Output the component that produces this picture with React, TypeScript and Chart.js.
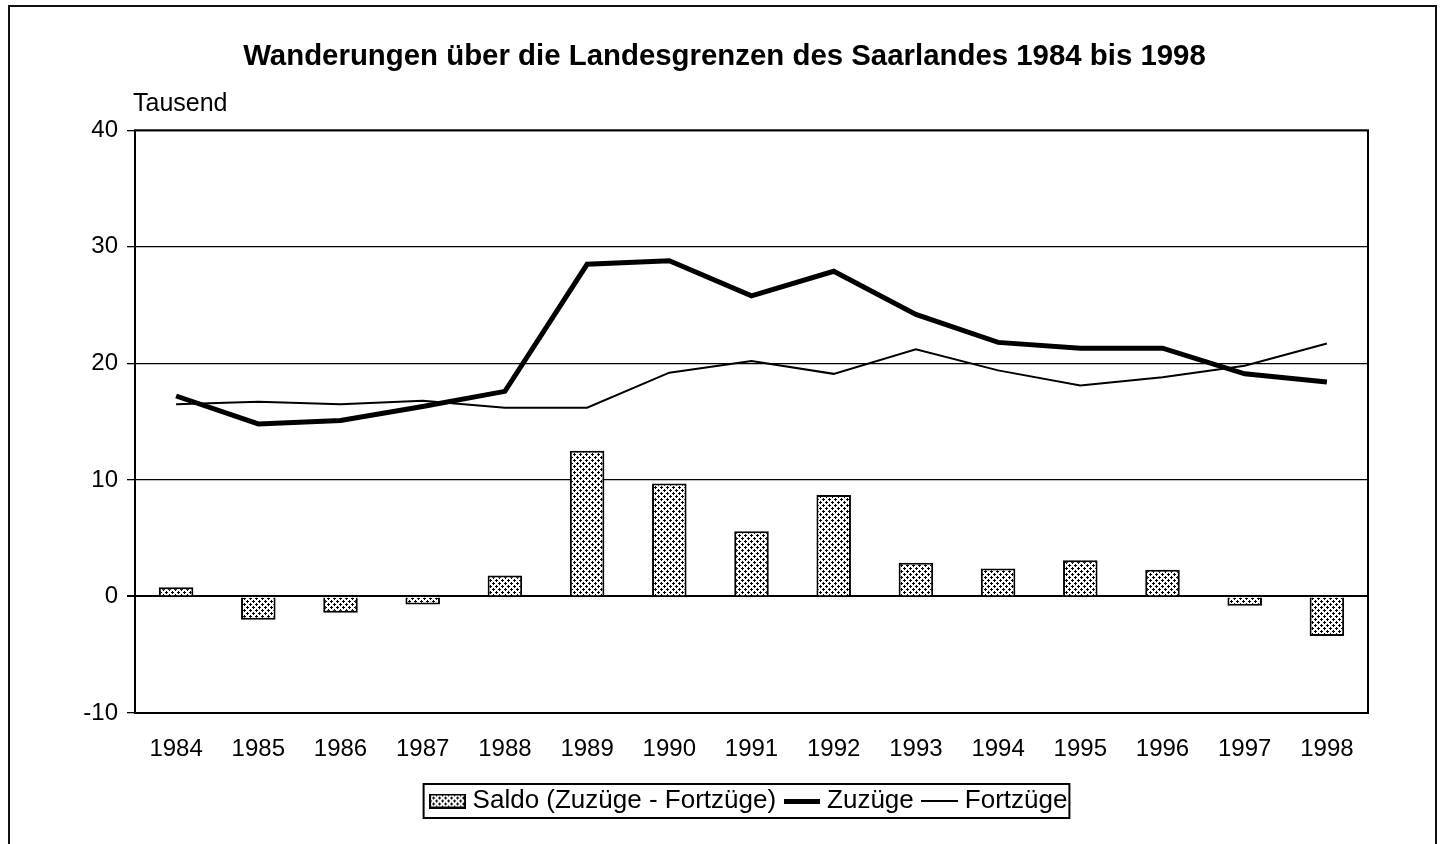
import React, { useEffect, useRef } from "react";
import { Chart, registerables } from "chart.js";
Chart.register(...registerables);

const years = ["1984", "1985", "1986", "1987", "1988", "1989", "1990", "1991", "1992", "1993", "1994", "1995", "1996", "1997", "1998"];
const saldo = [0.8, -2.0, -1.4, -0.7, 1.8, 12.5, 9.7, 5.6, 8.7, 2.9, 2.4, 3.1, 2.3, -0.8, -3.4];
const zuzuege = [17.2, 14.8, 15.1, 16.3, 17.6, 28.5, 28.8, 25.8, 27.9, 24.2, 21.8, 21.3, 21.3, 19.1, 18.4];
const fortzuege = [16.5, 16.7, 16.5, 16.8, 16.2, 16.2, 19.2, 20.2, 19.1, 21.2, 19.4, 18.1, 18.8, 19.8, 21.7];
const yMin = -10;
const yMax = 40;
const yStep = 10;

const titleText = "Wanderungen über die Landesgrenzen des Saarlandes 1984 bis 1998";
const unitText = "Tausend";
const seriesNames = ["Saldo (Zuzüge - Fortzüge)", "Zuzüge", "Fortzüge"];

const FONT = "'Liberation Sans', Arial, Helvetica, sans-serif";

function makePattern(): CanvasPattern | string {
  const c = document.createElement("canvas");
  c.width = 6;
  c.height = 6;
  const g = c.getContext("2d");
  if (!g) return "#bbb";
  g.fillStyle = "#fff";
  g.fillRect(0, 0, 6, 6);
  g.fillStyle = "#000";
  const dot = (x: number, y: number) => {
    g.fillRect(x + 1, y, 1, 3);
    g.fillRect(x, y + 1, 3, 1);
  };
  dot(0, 0);
  dot(3, 3);
  const p = g.createPattern(c, "repeat");
  return p || "#bbb";
}

function legendImage(kind: number, pattern: CanvasPattern | string): HTMLCanvasElement {
  const c = document.createElement("canvas");
  const g = c.getContext("2d")!;
  if (kind === 0) {
    c.width = 37;
    c.height = 15;
    g.fillStyle = pattern as any;
    g.fillRect(0, 0, 37, 15);
    g.strokeStyle = "#000";
    g.lineWidth = 2;
    g.strokeRect(1, 1, 35, 13);
  } else if (kind === 1) {
    c.width = 36;
    c.height = 5;
    g.fillStyle = "#000";
    g.fillRect(0, 0, 36, 5);
  } else {
    c.width = 37;
    c.height = 2;
    g.fillStyle = "#000";
    g.fillRect(0, 0, 37, 2);
  }
  return c;
}

const framePlugin = {
  id: "framePlugin",
  afterDraw(chart: any) {
    const { ctx, chartArea } = chart;
    ctx.save();
    ctx.strokeStyle = "#000";
    ctx.lineWidth = 2;
    ctx.strokeRect(chartArea.left, chartArea.top, chartArea.right - chartArea.left, chartArea.bottom - chartArea.top);
    ctx.fillStyle = "#000";
    ctx.font = `25px ${FONT}`;
    ctx.textAlign = "left";
    ctx.textBaseline = "middle";
    ctx.fillText(unitText, chartArea.left - 2, chartArea.top - 26);
    const boxes = chart.legend?.legendHitBoxes || [];
    if (boxes.length) {
      let minX = Infinity, maxX = -Infinity, minY = Infinity, maxY = -Infinity;
      boxes.forEach((b: any) => {
        minX = Math.min(minX, b.left);
        maxX = Math.max(maxX, b.left + b.width);
        minY = Math.min(minY, b.top);
        maxY = Math.max(maxY, b.top + b.height);
      });
      ctx.lineWidth = 2;
      ctx.strokeRect(minX - 12, minY - 4, maxX - minX + 14, maxY - minY + 8);
    }
    ctx.restore();
  },
};

export default function App() {
  const ref = useRef<HTMLCanvasElement | null>(null);
  useEffect(() => {
    if (!ref.current) return;
    const pattern = makePattern();
    const imgs = [0, 1, 2].map((k) => legendImage(k, pattern));
    const chart = new Chart(ref.current, {
      type: "bar",
      data: {
        labels: years,
        datasets: [
          {
            type: "bar",
            label: seriesNames[0],
            data: saldo,
            backgroundColor: pattern as any,
            borderColor: "#000",
            borderWidth: 2,
            categoryPercentage: 1,
            barPercentage: 0.42,
          },
          {
            type: "line",
            label: seriesNames[1],
            data: zuzuege,
            borderColor: "#000",
            borderWidth: 5,
            pointRadius: 0,
            tension: 0,
            fill: false,
          },
          {
            type: "line",
            label: seriesNames[2],
            data: fortzuege,
            borderColor: "#000",
            borderWidth: 2,
            pointRadius: 0,
            tension: 0,
            fill: false,
          },
        ] as any,
      },
      options: {
        responsive: false,
        animation: false,
        devicePixelRatio: 1,
        layout: { padding: { left: 81, right: 81, top: 0, bottom: 20 } },
        plugins: {
          title: {
            display: true,
            text: titleText,
            color: "#000",
            font: { family: FONT, size: 29.4, weight: "bold" },
            padding: { top: 39, bottom: 56 },
          },
          legend: {
            display: true,
            position: "bottom",
            fullSize: false,
            labels: {
              usePointStyle: true,
              pointStyleWidth: 24,
              boxHeight: 15,
              color: "#000",
              font: { family: FONT, size: 26 },
              padding: 14,
              sort: (a: any, b: any) => a.datasetIndex - b.datasetIndex,
              generateLabels: (ch: any) => {
                const base = (Chart.defaults.plugins.legend.labels as any).generateLabels(ch);
                return base.map((it: any) => ({ ...it, pointStyle: imgs[it.datasetIndex], fillStyle: "#000", strokeStyle: "#000" }));
              },
            },
          },
          tooltip: { enabled: false },
        },
        scales: {
          x: {
            offset: true,
            grid: { display: false, drawTicks: false },
            border: { display: false },
            ticks: { color: "#000", font: { family: FONT, size: 24 }, padding: 22, maxRotation: 0, autoSkip: false },
            afterFit: (s: any) => {
              s.height = 61;
            },
          },
          y: {
            min: yMin,
            max: yMax,
            ticks: { stepSize: yStep, color: "#000", font: { family: FONT, size: 24 }, padding: 9 },
            grid: {
              color: "#000",
              lineWidth: (c: any) => (c.tick && c.tick.value === 0 ? 2 : 1.3),
              tickLength: 8,
            },
            border: { display: false },
            afterFit: (s: any) => {
              s.width = 54;
            },
          },
        },
      } as any,
      plugins: [framePlugin],
    });
    return () => chart.destroy();
  }, []);

  return (
    <div style={{ position: "fixed", left: 0, top: 0, width: 1449, height: 844, overflow: "hidden", background: "#fff" }}>
      <div
        style={{
          position: "absolute",
          left: 8,
          top: 5,
          width: 1429,
          height: 900,
          border: "2px solid #111",
          boxSizing: "border-box",
        }}
      />
      <canvas ref={ref} width={1449} height={844} style={{ position: "absolute", left: 0, top: 0, width: 1449, height: 844 }} />
    </div>
  );
}
